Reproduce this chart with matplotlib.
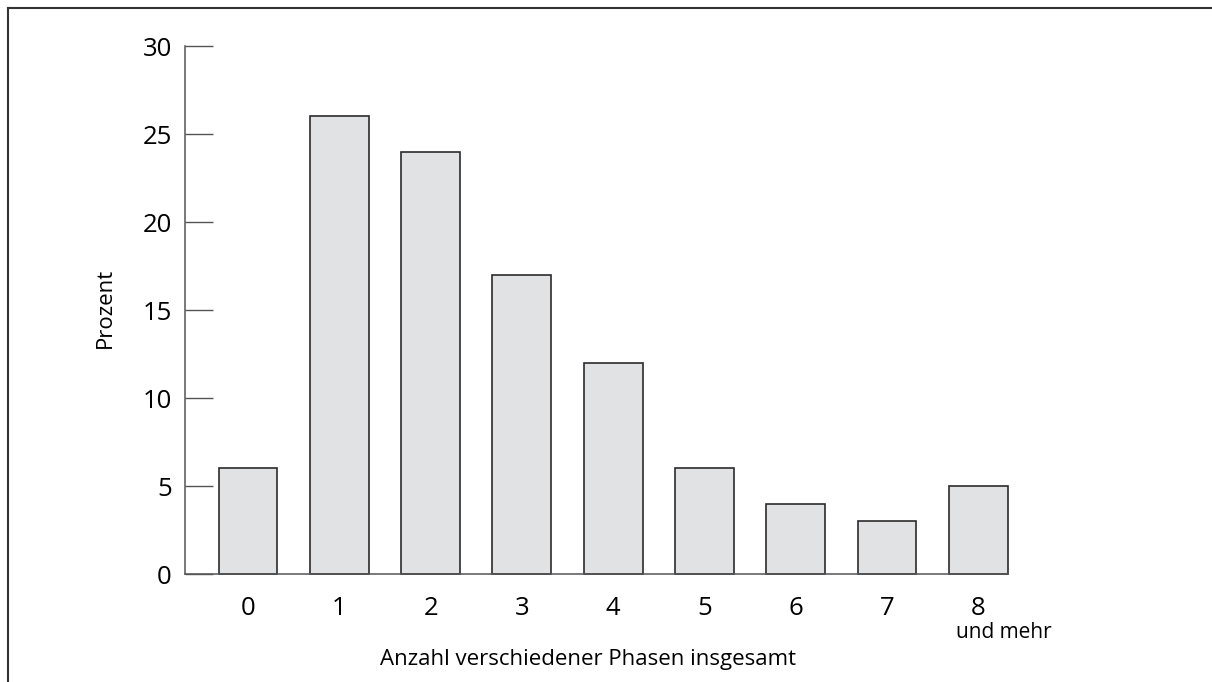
import matplotlib.pyplot as plt
from matplotlib.lines import Line2D

# Data
categories = ['0', '1', '2', '3', '4', '5', '6', '7', '8']
values = [6, 26, 24, 17, 12, 6, 4, 3, 5]
y_ticks = [0, 5, 10, 15, 20, 25, 30]

plt.rcParams['font.family'] = ['Open Sans', 'DejaVu Sans']

W, H = 1212, 682
fig = plt.figure(figsize=(W / 100, H / 100), dpi=100)
ax = fig.add_axes([185 / W, 1 - 574 / H, 823 / W, 528 / H])

x = list(range(len(categories)))
ax.bar(x, values, width=0.645, color='#e1e2e4', edgecolor='#2b2b2b', linewidth=1.2,
       clip_on=False)

ax.set_xlim(-0.69, 8.325)
ax.set_ylim(0, 30)
ax.set_yticks(y_ticks)
ax.set_yticklabels([str(t) for t in y_ticks], fontsize=18.5)
ax.set_xticks(x)
ax.set_xticklabels(categories, fontsize=18.5)

ax.tick_params(axis='y', direction='in', length=20, width=1, color='#555555', pad=9.5)
ax.tick_params(axis='x', length=0, pad=16)

for side in ['top', 'right']:
    ax.spines[side].set_visible(False)
for side in ['left', 'bottom']:
    ax.spines[side].set_color('#555555')
    ax.spines[side].set_linewidth(1.1)

# second line under the last category
ax.text(8.28, -2.75, 'und mehr', ha='center', va='top', fontsize=15,
        transform=ax.transData, clip_on=False)

# axis titles
fig.text(588 / W, 1 - 659 / H, 'Anzahl verschiedener Phasen insgesamt',
         ha='center', va='center', fontsize=16)
fig.text(105 / W, 1 - 308 / H, 'Prozent', ha='center', va='center',
         rotation=90, fontsize=16)

# frame lines around the figure (left and top)
fig.add_artist(Line2D([8 / W, 8 / W], [0, 1 - 8 / H], color='#333333', linewidth=1.5))
fig.add_artist(Line2D([8 / W, 1], [1 - 8 / H, 1 - 8 / H], color='#333333', linewidth=1.5))

fig.savefig('out.png', dpi=100)
